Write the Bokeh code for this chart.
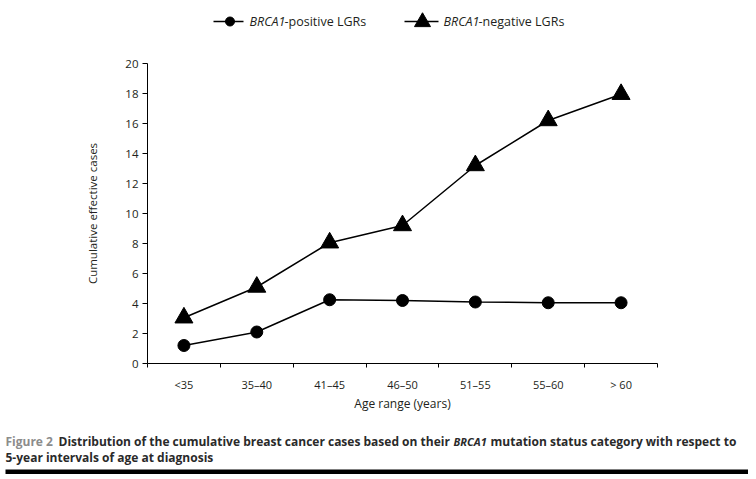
from bokeh.plotting import figure
from bokeh.models import ColumnDataSource, FixedTicker, Range1d
from bokeh.layouts import column, row
from bokeh.core.properties import value
from bokeh.embed import file_html
from bokeh.resources import INLINE

# ---- data ----
categories = ["<35", "35\u201340", "41\u201345", "46\u201350", "51\u201355", "55\u201360", "> 60"]
positive = [1.2, 2.1, 4.25, 4.2, 4.1, 4.05, 4.05]
negative = [3.05, 5.1, 8.05, 9.2, 13.2, 16.2, 17.95]
y_ticks = [0, 2, 4, 6, 8, 10, 12, 14, 16, 18, 20]
series_names = ["-positive LGRs", "-negative LGRs"]
gene = "BRCA1"

FONT = "Open Sans"
CAP_FONT = "Open Sans"
TXT = "#231f20"
W = 748


def blank(height, ymax):
    f = figure(width=W, height=height, output_backend="svg", toolbar_location=None,
               x_range=Range1d(0, W), y_range=Range1d(ymax, 0),
               x_axis_location=None, y_axis_location=None,
               min_border=0, min_border_left=0, min_border_right=0,
               min_border_top=0, min_border_bottom=0)
    f.outline_line_color = None
    f.xgrid.visible = False
    f.ygrid.visible = False
    return f


# ---- legend strip ----
leg = blank(40, 40)
leg.line([213, 243], [21, 21], line_color="black", line_width=1.5)
leg.scatter([229.5], [21], marker="circle", size=9, fill_color="black", line_color="black")
leg.line([404, 438], [21, 21], line_color="black", line_width=1.5)
leg.scatter([422], [21.5], marker="triangle", size=16, fill_color="black", line_color="black")
leg.text([249, 443], [21, 21], text=[gene, gene], text_font=value(FONT),
         text_font_size="12.5px", text_font_style="italic", text_color=TXT,
         text_baseline="middle", text_align="left")
leg.text([284, 478], [21, 21], text=series_names, text_font=value(FONT),
         text_font_size="12.5px", text_color=TXT,
         text_baseline="middle", text_align="left")

# ---- main chart ----
xpos = [i + 0.5 for i in range(len(categories))]
src = ColumnDataSource(dict(x=xpos, pos=positive, neg=negative))

p = figure(width=W, height=385, output_backend="svg", toolbar_location=None,
           x_range=Range1d(0, len(categories)), y_range=Range1d(0, 20),
           min_border_left=147, min_border_right=W - 657, min_border_top=23,
           min_border_bottom=62)
p.outline_line_color = None
p.xgrid.visible = False
p.ygrid.visible = False

p.line("x", "pos", source=src, line_color="black", line_width=1.5)
p.line("x", "neg", source=src, line_color="black", line_width=1.5)
p.scatter("x", "pos", source=src, marker="circle", size=12,
          fill_color="black", line_color="black")
p.scatter("x", "neg", source=src, marker="triangle", size=18,
          fill_color="black", line_color="black")

xa = p.xaxis[0]
xa.ticker = FixedTicker(ticks=xpos, minor_ticks=list(range(len(categories) + 1)))
xa.major_label_overrides = {x: c for x, c in zip(xpos, categories)}
xa.major_tick_out = 0
xa.major_tick_in = 0
xa.minor_tick_out = 4
xa.minor_tick_in = 0
xa.major_label_standoff = 9
xa.major_label_text_font = FONT
xa.major_label_text_font_size = "11px"
xa.major_label_text_color = TXT
xa.axis_label = "Age range (years)"
xa.axis_label_text_font = FONT
xa.axis_label_text_font_size = "12px"
xa.axis_label_text_font_style = "normal"
xa.axis_label_text_color = TXT
xa.axis_label_standoff = 0
xa.axis_line_color = "black"

ya = p.yaxis[0]
ya.ticker = FixedTicker(ticks=y_ticks, minor_ticks=[])
ya.major_tick_out = 5
ya.major_tick_in = 0
ya.major_label_standoff = 4
ya.major_label_text_font = FONT
ya.major_label_text_font_size = "11.5px"
ya.major_label_text_color = TXT
ya.axis_label = "Cumulative effective cases"
ya.axis_label_text_font = FONT
ya.axis_label_text_font_size = "11.5px"
ya.axis_label_text_font_style = "normal"
ya.axis_label_text_color = TXT
ya.axis_label_standoff = 22
ya.axis_line_color = "black"

# ---- caption strip ----
cap = blank(54, 54)
cap.text([5], [16], text=["Figure 2"], text_font=value(CAP_FONT), text_font_size="12px",
         text_font_style="bold", text_color="#8c8c8c", text_baseline="middle")
cap.text([58, 490], [16, 16],
         text=["Distribution of the cumulative breast cancer cases based on their",
               "mutation status category with respect to"],
         text_font=value(CAP_FONT), text_font_size="12px", text_font_style="bold",
         text_color="#2a2a2a", text_baseline="middle")
cap.text([453], [16], text=[gene], text_font=value(CAP_FONT), text_font_size="11px",
         text_font_style="bold italic", text_color="#2a2a2a", text_baseline="middle")
cap.text([5], [32], text=["5-year intervals of age at diagnosis"],
         text_font=value(CAP_FONT), text_font_size="12px", text_font_style="bold",
         text_color="#2a2a2a", text_baseline="middle")
cap.quad(left=[5], right=[W], top=[44], bottom=[48.5], fill_color="black", line_color=None)

layout = column(row(leg), p, row(cap), spacing=0)
open("out.html", "w").write(file_html(layout, INLINE))
